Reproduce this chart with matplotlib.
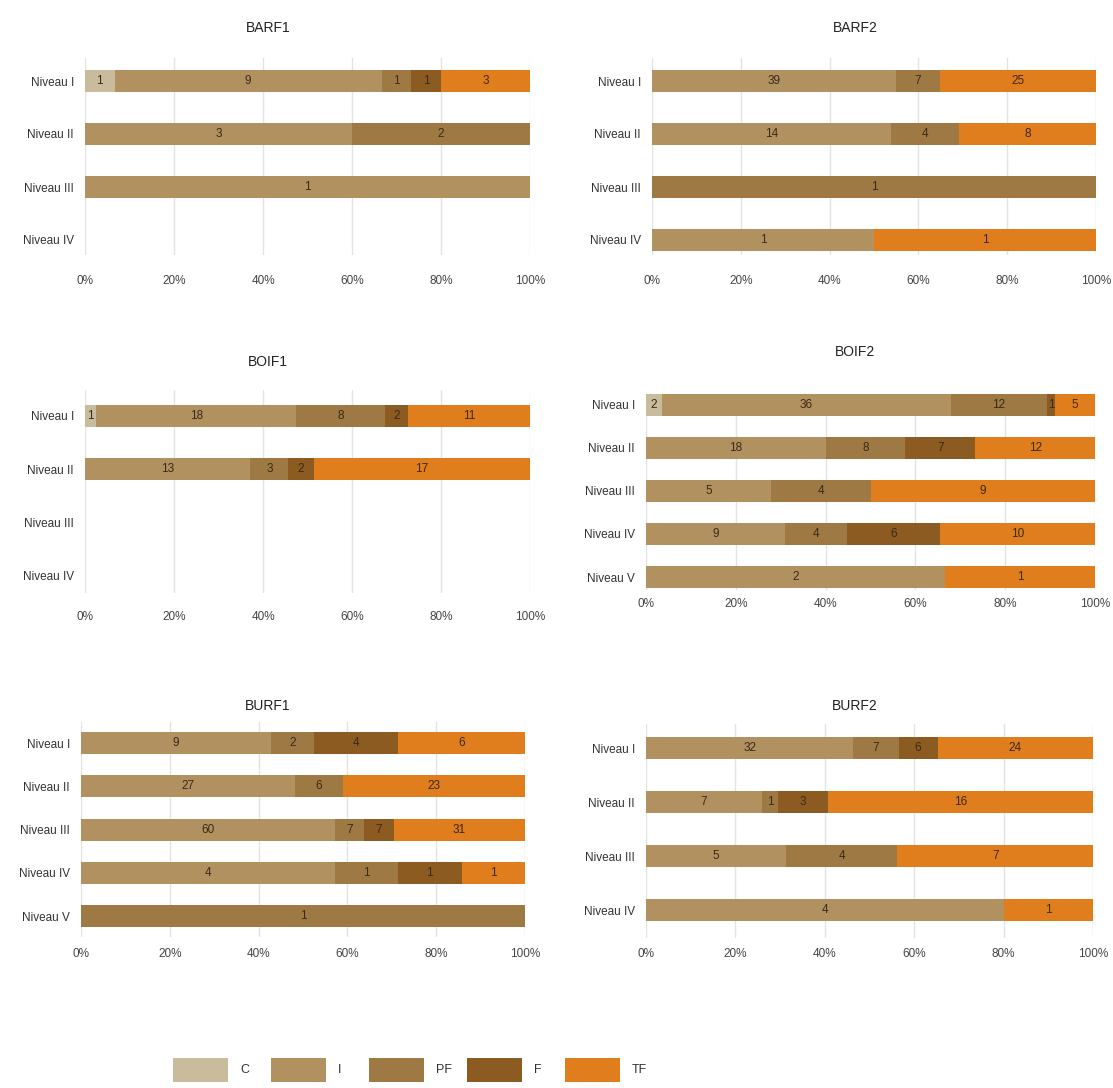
import numpy as np
import matplotlib
matplotlib.use('Agg')
import matplotlib.pyplot as plt
from matplotlib.patches import Rectangle

plt.rcParams['font.family'] = ['Liberation Sans', 'DejaVu Sans']

# Categories and colours
categories = ['C', 'I', 'PF', 'F', 'TF']
colors = ['#c9bc9d', '#b0915f', '#9e7944', '#8b5b22', '#e07d1c']

niveaux4 = ['Niveau I', 'Niveau II', 'Niveau III', 'Niveau IV']
niveaux5 = ['Niveau I', 'Niveau II', 'Niveau III', 'Niveau IV', 'Niveau V']

# counts per level, columns = C, I, PF, F, TF
barf1 = [[1, 9, 1, 1, 3],
         [0, 3, 2, 0, 0],
         [0, 1, 0, 0, 0],
         [0, 0, 0, 0, 0]]
barf2 = [[0, 39, 7, 0, 25],
         [0, 14, 4, 0, 8],
         [0, 0, 1, 0, 0],
         [0, 1, 0, 0, 1]]
boif1 = [[1, 18, 8, 2, 11],
         [0, 13, 3, 2, 17],
         [0, 0, 0, 0, 0],
         [0, 0, 0, 0, 0]]
boif2 = [[2, 36, 12, 1, 5],
         [0, 18, 8, 7, 12],
         [0, 5, 4, 0, 9],
         [0, 9, 4, 6, 10],
         [0, 2, 0, 0, 1]]
burf1 = [[0, 9, 2, 4, 6],
         [0, 27, 6, 0, 23],
         [0, 60, 7, 7, 31],
         [0, 4, 1, 1, 1],
         [0, 0, 1, 0, 0]]
burf2 = [[0, 32, 7, 6, 24],
         [0, 7, 1, 3, 16],
         [0, 5, 4, 0, 7],
         [0, 4, 0, 0, 1]]

xticks = [0, 20, 40, 60, 80, 100]
xticklabels = ['0%', '20%', '40%', '60%', '80%', '100%']

W, H = 1113, 1088
fig = plt.figure(figsize=(W / 100, H / 100), dpi=100)

# title, data, levels, (x0, x1, ytop, ybot) px, first row px, row step px, title pos, tick pad pt
panels = [
    ('BARF1', barf1, niveaux4, (85, 530, 58, 255), 81, 53, (268, 28), 14.5),
    ('BARF2', barf2, niveaux4, (652, 1096, 58, 255), 81, 53, (855, 28), 14.5),
    ('BOIF1', boif1, niveaux4, (85, 530, 390, 593), 416, 53.3, (268, 362), 13),
    ('BOIF2', boif2, niveaux5, (646, 1095, 394, 590), 405, 43, (855, 352), 6),
    ('BURF1', burf1, niveaux5, (81, 525, 722, 937), 743, 43.3, (268, 706), 8),
    ('BURF2', burf2, niveaux4, (646, 1093, 724, 938), 748, 54, (855, 706), 7.5),
]

for title, data, levels, (x0, x1, yt, yb), row0, step, (tx, ty), pad in panels:
    ax = fig.add_axes([x0 / W, 1 - yb / H, (x1 - x0) / W, (yb - yt) / H])
    counts = np.array(data, dtype=float)
    totals = counts.sum(axis=1)
    pct = np.divide(counts * 100, totals[:, None],
                    out=np.zeros_like(counts), where=totals[:, None] > 0)
    left = np.zeros(len(levels))
    y = np.arange(len(levels))
    bar_h = 22 / step
    for j, cat in enumerate(categories):
        ax.barh(y, pct[:, j], left=left, height=bar_h, color=colors[j],
                edgecolor='none', zorder=2)
        for i in range(len(levels)):
            if counts[i, j] > 0:
                ax.text(left[i] + pct[i, j] / 2, y[i], f'{int(counts[i, j])}',
                        ha='center', va='center', fontsize=8.5,
                        color='#3a2a18', zorder=3)
        left += pct[:, j]

    ax.set_xlim(0, 100)
    ax.set_ylim((yb - row0) / step, -(row0 - yt) / step)
    ax.set_yticks(y)
    ax.set_yticklabels(levels, fontsize=8.5, color='#333333')
    ax.set_xticks(xticks)
    ax.set_xticklabels(xticklabels, fontsize=8.5, color='#444444')
    ax.tick_params(axis='x', length=0, pad=pad)
    ax.tick_params(axis='y', length=0, pad=8)
    ax.grid(axis='x', color='#e3e3e3', linewidth=1, zorder=0)
    ax.set_axisbelow(True)
    for s in ax.spines.values():
        s.set_visible(False)
    fig.text(tx / W, 1 - ty / H, title, ha='center', va='center',
             fontsize=10, color='#222222')

# legend, fixed-width slots
for k, cat in enumerate(categories):
    px = 173 + 98 * k
    fig.add_artist(Rectangle((px / W, 1 - 1082 / H), 55 / W, 24 / H,
                             transform=fig.transFigure, facecolor=colors[k],
                             edgecolor='none'))
    fig.text((px + 67) / W, 1 - 1070 / H, cat, ha='left', va='center',
             fontsize=9, color='#333333')

fig.savefig('out.png', dpi=100, facecolor='white')
